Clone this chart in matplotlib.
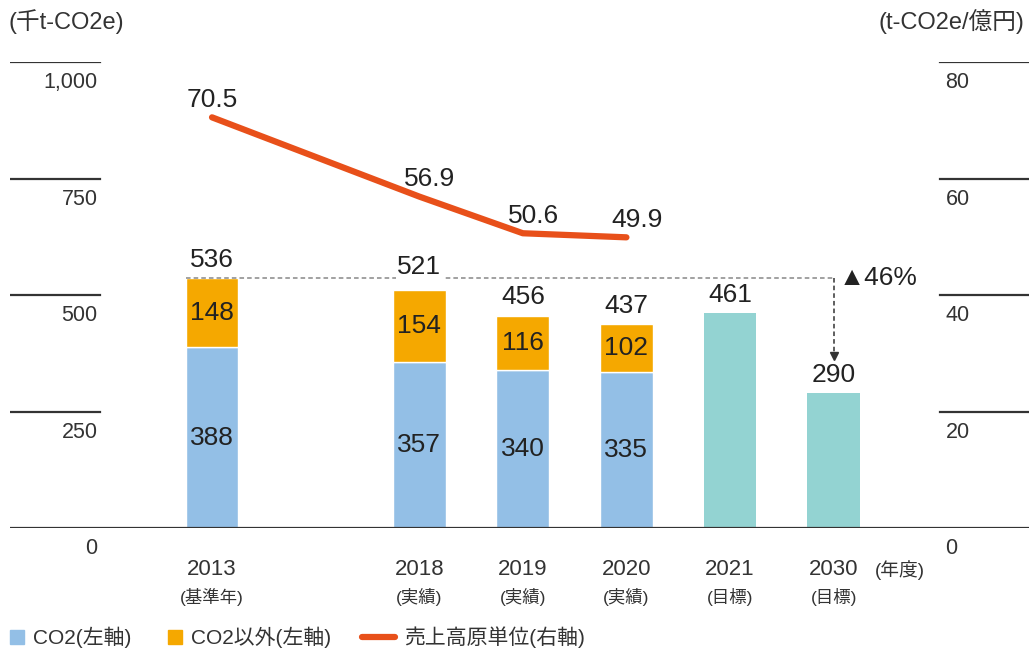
import matplotlib.pyplot as plt
from matplotlib.patches import Rectangle
from matplotlib.lines import Line2D

plt.rcParams['font.family'] = ['Liberation Sans', 'Noto Sans CJK JP', 'DejaVu Sans']

# === DATA ===
years = ['2013', '2018', '2019', '2020', '2021', '2030']
sub_labels = ['(基準年)', '(実績)', '(実績)', '(実績)', '(目標)', '(目標)']
positions = [0, 2, 3, 4, 5, 6]
co2 = [388, 357, 340, 335]
non_co2 = [148, 154, 116, 102]
totals = [536, 521, 456, 437]
targets = [461, 290]
intensity = [70.5, 56.9, 50.6, 49.9]
left_ticks = [0, 250, 500, 750, 1000]
right_ticks = [0, 20, 40, 60, 80]
legend_labels = ['CO2(左軸)', 'CO2以外(左軸)', '売上高原単位(右軸)']

BLUE = '#93BFE6'
ORANGE = '#F5A800'
TEAL = '#93D3D2'
RED = '#E8501A'
TXT = '#222222'
GREY = '#333333'

W, H = 1029, 650
fig = plt.figure(figsize=(W / 100, H / 100), dpi=100)
ax = fig.add_axes([10 / W, 122 / H, 1019 / W, 466 / H])
ax.set_ylim(0, 1000)
ax.set_xlim(-1.95, 7.886)
for s in ax.spines.values():
    s.set_visible(False)
ax.set_xticks([])
ax.set_yticks([])

w = 0.51
actual_pos = positions[:4]
target_pos = positions[4:]

ax.bar(actual_pos, co2, width=w, color=BLUE, edgecolor='white', linewidth=1)
ax.bar(actual_pos, non_co2, bottom=co2, width=w, color=ORANGE, edgecolor='white', linewidth=1)
ax.bar(target_pos, targets, width=w, color=TEAL)

fs_num = 19
for x, a, b, t in zip(actual_pos, co2, non_co2, totals):
    ax.text(x, a / 2, str(a), ha='center', va='center', fontsize=fs_num, color=TXT)
    ax.text(x, a + b / 2, str(b), ha='center', va='center', fontsize=fs_num, color=TXT)
    ax.text(x, t + 40, str(t), ha='center', va='center', fontsize=fs_num, color=TXT,
            bbox=dict(facecolor='white', edgecolor='none', pad=1))
for x, t in zip(target_pos, targets):
    ax.text(x, t + 38, str(t), ha='center', va='center', fontsize=fs_num, color=TXT)

# baseline and short tick lines
ax.axhline(0, color=GREY, lw=1.6)
for v in left_ticks[1:]:
    ax.axhline(v, xmin=0, xmax=0.088, color=GREY, lw=1.6)
    ax.axhline(v, xmin=0.913, xmax=1, color=GREY, lw=1.6)

for v, r in zip(left_ticks, right_ticks):
    ax.text(0.086, v - 45, f'{v:,}', transform=ax.get_yaxis_transform(),
            ha='right', va='center', fontsize=15.5, color=GREY)
    ax.text(0.918, v - 45, str(r), transform=ax.get_yaxis_transform(),
            ha='left', va='center', fontsize=15.5, color=GREY)

# category labels
for x, yl, sl in zip(positions, years, sub_labels):
    ax.text(x, -90, yl, ha='center', va='center', fontsize=16, color=GREY)
    ax.text(x, -149, sl, ha='center', va='center', fontsize=12.5, color=GREY)
ax.text(positions[-1] + 0.64, -90, '(年度)', ha='center', va='center', fontsize=13.5, color=GREY)

# 46% reduction marker
ax.plot([positions[0] - w / 2, positions[-1]], [totals[0], totals[0]],
        ls=(0, (3, 2)), color='#888888', lw=1.1, zorder=1)
arrow_end = targets[-1] + 80
ax.plot([positions[-1], positions[-1]], [totals[0], arrow_end],
        ls=(0, (3, 2)), color=GREY, lw=1.1)
ax.plot(positions[-1], arrow_end, marker='v', color=GREY, ms=6)
ax.text(positions[-1] + 0.05, totals[0], '▲46%', ha='left', va='center',
        fontsize=fs_num, color=TXT)

# intensity line on right axis
ax2 = ax.twinx()
ax2.set_ylim(0, 80)
ax2.set_xlim(ax.get_xlim())
for s in ax2.spines.values():
    s.set_visible(False)
ax2.set_yticks([])
ax2.plot(actual_pos, intensity, color=RED, lw=4.5, solid_capstyle='round',
         solid_joinstyle='round')
for i, (x, v) in enumerate(zip(actual_pos, intensity)):
    dx = 0 if i == 0 else 0.1
    ax2.text(x + dx, v + 3.0, f'{v}', ha='center', va='center', fontsize=fs_num, color=TXT)

# unit labels
fig.text(8 / W, 1 - 22 / H, '(千t-CO2e)', ha='left', va='center', fontsize=17, color=GREY)
fig.text(1024 / W, 1 - 22 / H, '(t-CO2e/億円)', ha='right', va='center', fontsize=17, color=GREY)

# legend (drawn by hand to match swatch sizes)
ly = 13 / H
fig.patches.append(Rectangle((10 / W, 6 / H), 14 / W, 14 / H, color=BLUE,
                             transform=fig.transFigure, figure=fig))
fig.text(33 / W, ly, legend_labels[0], ha='left', va='center', fontsize=15, color=GREY)
fig.patches.append(Rectangle((168 / W, 6 / H), 14 / W, 14 / H, color=ORANGE,
                             transform=fig.transFigure, figure=fig))
fig.text(191 / W, ly, legend_labels[1], ha='left', va='center', fontsize=15, color=GREY)
fig.lines.append(Line2D([362 / W, 395 / W], [ly, ly], color=RED, lw=4.5,
                        solid_capstyle='round', transform=fig.transFigure, figure=fig))
fig.text(404 / W, ly, legend_labels[2], ha='left', va='center', fontsize=15, color=GREY)

fig.savefig('out.png', dpi=100)
